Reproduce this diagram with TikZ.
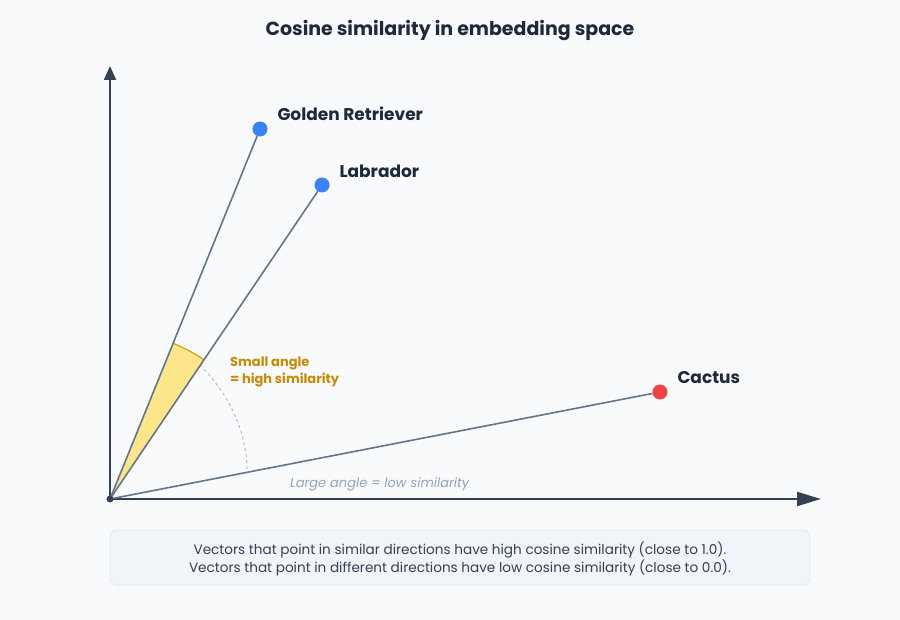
\documentclass[tikz,border=0pt]{standalone}
\usepackage{fontspec}
\setmainfont{Poppins}
\usetikzlibrary{arrows.meta,calc}
\definecolor{bg}{HTML}{F8FAFC}
\definecolor{ink}{HTML}{1E293B}
\definecolor{axis}{HTML}{334155}
\definecolor{vec}{HTML}{64748B}
\definecolor{blu}{HTML}{3B82F6}
\definecolor{rd}{HTML}{EF4444}
\definecolor{gold}{HTML}{CA8A04}
\definecolor{wedge}{HTML}{FDE68A}
\definecolor{mut}{HTML}{94A3B8}
\definecolor{boxf}{HTML}{F1F5F9}
\definecolor{boxd}{HTML}{E2E8F0}
\begin{document}
\begin{tikzpicture}[x=1pt,y=-1pt,
  lbl/.style={font=\fontsize{17}{19}\selectfont\bfseries,text=ink,anchor=west},
  vecl/.style={vec,line width=1.6pt},
  dot/.style={circle,inner sep=0pt,minimum size=15pt}]
\fill[bg] (0,0) rectangle (900,620);
\useasboundingbox (0,0) rectangle (900,620);
\node[font=\fontsize{19}{21}\selectfont\bfseries,text=ink] (title) at (450,31) {Cosine similarity in embedding space};
\coordinate (O) at (110,499);
\coordinate (G) at (260,129);
\coordinate (L) at (322,185);
\coordinate (C) at (660,392);
\fill[wedge] (O) -- ($(O)+(-67.93:168)$) arc[start angle=-67.93,end angle=-56.0,radius=168] -- cycle;
\draw[gold!80!yellow,line width=1.2pt] ($(O)+(-67.93:168)$) arc[start angle=-67.93,end angle=-56.0,radius=168];
\draw[mut!70,dashed,line width=1pt] (200,365) .. controls (235,400) and (247,440) .. (247,470);
\draw[axis,line width=2pt,-{Triangle[length=14pt,width=12pt]}] (O) -- (110,66) coordinate (Y);
\draw[axis,line width=2pt,-{Triangle[length=24pt,width=14pt]}] (O) -- (821,499) coordinate (X);
\node[dot,fill=blu] (g) at (G) {};
\node[dot,fill=blu] (l) at (L) {};
\node[dot,fill=rd] (c) at (C) {};
\draw[vecl] (O) -- (g);
\draw[vecl] (O) -- (l);
\draw[vecl] (O) -- (c);
\fill[axis] (O) circle (3.5pt);
\node[lbl] (gl) at (274,114) {Golden Retriever};
\node[lbl] (ll) at (336,171) {Labrador};
\node[lbl] (cl) at (674,378) {Cactus};
\node[font=\fontsize{13}{17}\selectfont\bfseries,text=gold,anchor=north west,align=left,inner sep=0pt] (sa) at (230,357) {Small angle\\= high similarity};
\node[font=\fontsize{13}{15}\selectfont\itshape,text=mut,anchor=west,inner sep=0pt] (la) at (290,484) {Large angle = low similarity};
\draw[boxd,fill=boxf,rounded corners=7pt,line width=0.8pt] (110,530) rectangle (810,585);
\node[font=\fontsize{13.6}{18}\selectfont,text=axis,align=center] (cap) at (460,559) {Vectors that point in similar directions have high cosine similarity (close to 1.0).\\Vectors that point in different directions have low cosine similarity (close to 0.0).};
\end{tikzpicture}
\end{document}
